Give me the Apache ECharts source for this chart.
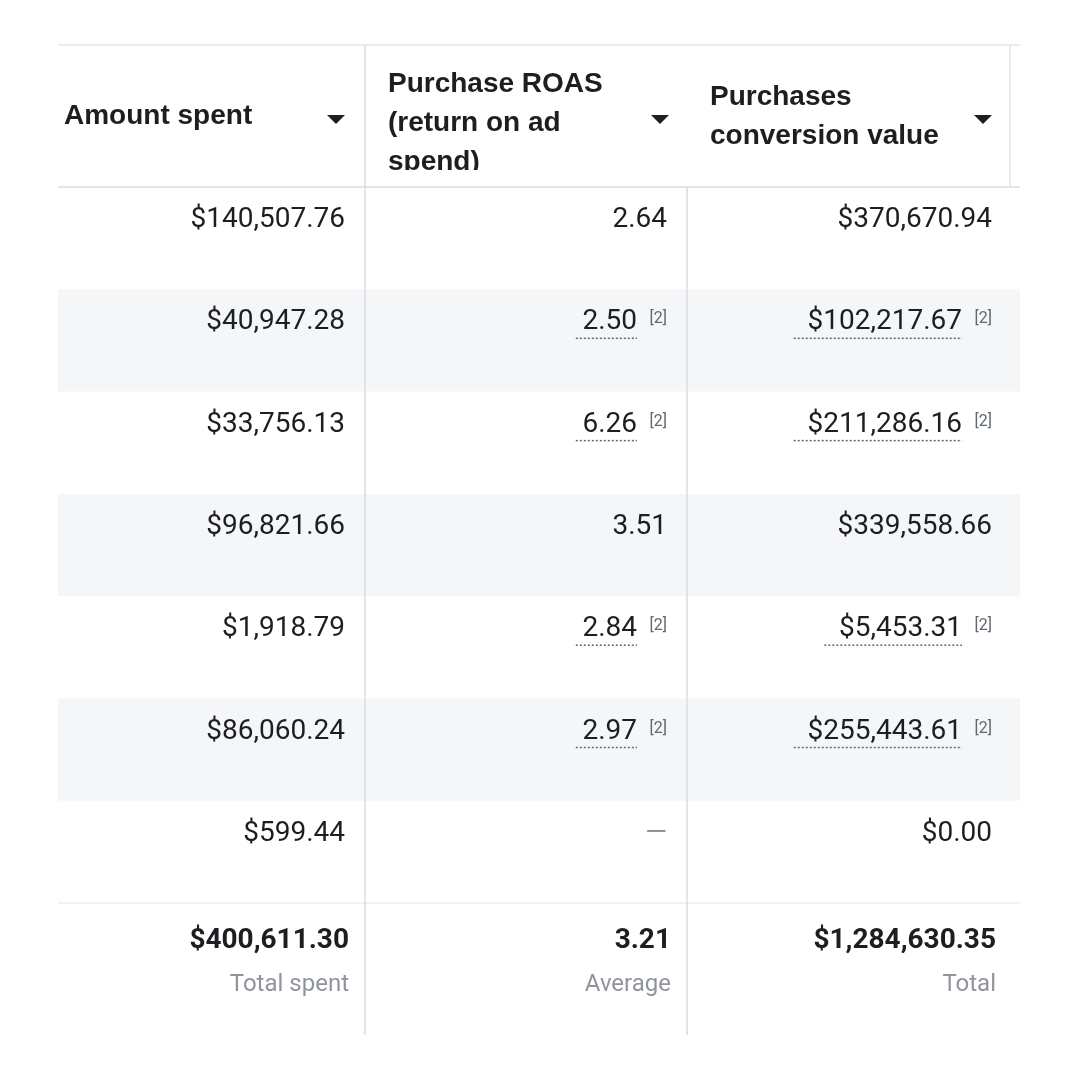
<!DOCTYPE html>
<html><head><meta charset="utf-8">
<script src="https://cdn.jsdelivr.net/npm/echarts@6/dist/echarts.min.js"></script>
<style>html,body{margin:0;background:#fff}#c{width:1080px;height:1080px}</style></head>
<body><div id="c"></div>
<script>
const headers = [['Amount spent'], ['Purchase ROAS', '(return on ad', 'spend)'], ['Purchases', 'conversion value']];
const amountSpent = ['$140,507.76', '$40,947.28', '$33,756.13', '$96,821.66', '$1,918.79', '$86,060.24', '$599.44'];
const roas = ['2.64', '2.50', '6.26', '3.51', '2.84', '2.97', '—'];
const convValue = ['$370,670.94', '$102,217.67', '$211,286.16', '$339,558.66', '$5,453.31', '$255,443.61', '$0.00'];
const footnoted = [false, true, true, false, true, true, false];
const totals = ['$400,611.30', '3.21', '$1,284,630.35'];
const totalLabels = ['Total spent', 'Average', 'Total'];

// layout (pixel-space axes)
const colEdges = [58, 365, 687, 1010];
const colRight = [345, 667, 992];
const headerTop = 45, headerBottom = 187, rowH = 102.3, totalBottom = 1035;

const chart = echarts.init(document.getElementById('c'));
const FONT = 'Roboto, "Liberation Sans", sans-serif';
const HFONT = '"Liberation Sans", Arial, sans-serif';

function renderTable(params, api) {
  const P = (x, y) => api.coord([x, y]);
  const ch = [];
  const line = (x1, y1, x2, y2, c) => { const a = P(x1, y1), b = P(x2, y2);
    ch.push({type:'line', shape:{x1:a[0],y1:a[1],x2:b[0],y2:b[1]}, style:{stroke:c||'#dadde1', lineWidth:1.5}}); };
  const text = (s, x, y, o) => { const a = P(x, y);
    ch.push({type:'text', x:a[0], y:a[1], style:Object.assign({text:s, fill:'#1c1e21', font:'28px '+FONT, align:'right', verticalAlign:'middle'}, o)}); };
  const nRows = amountSpent.length;
  // stripes
  for (let i = 0; i < nRows; i++) if (i % 2 === 1) {
    const a = P(58, headerBottom + i*rowH), b = P(1020, headerBottom + (i+1)*rowH);
    ch.push({type:'rect', shape:{x:a[0], y:a[1], width:b[0]-a[0], height:b[1]-a[1]}, style:{fill:'#f5f6f7'}});
  }
  const totalTop = headerBottom + nRows*rowH;
  // borders
  line(58, headerTop, 1020, headerTop, '#e4e6eb');
  line(58, headerBottom, 1020, headerBottom, '#dadde1');
  line(58, totalTop, 1020, totalTop, '#eceef1');
  line(365, headerTop, 365, totalBottom);
  line(687, headerBottom, 687, totalBottom);
  line(1010, headerTop, 1010, headerBottom, '#e4e6eb');
  // headers
  const hx = [64, 388, 710];
  const arrowX = [336, 660, 983];
  headers.forEach((h, c) => {
    const startY = h.length === 3 ? 84 : (h.length === 2 ? 97 : 116);
    const clipA = P(colEdges[c], headerTop), clipB = P(colEdges[c+1], 170);
    const grp = {type:'group', clipPath:{type:'rect', shape:{x:clipA[0], y:clipA[1], width:clipB[0]-clipA[0], height:clipB[1]-clipA[1]}}, children:[]};
    h.forEach((s, k) => { const a = P(hx[c], startY + k*39);
      grp.children.push({type:'text', x:a[0], y:a[1], style:{text:s, fill:'#1c1e21', font:'bold 28px '+HFONT, align:'left', verticalAlign:'middle'}}); });
    ch.push(grp);
    const a = P(arrowX[c], 115);
    ch.push({type:'polygon', shape:{points:[[a[0]-9,a[1]],[a[0]+9,a[1]],[a[0],a[1]+9]]}, style:{fill:'#1c1e21'}});
  });
  // data rows
  for (let i = 0; i < nRows; i++) {
    const y = headerBottom + i*rowH + 33;
    text(amountSpent[i], colRight[0], y);
    const vals = [roas[i], convValue[i]];
    vals.forEach((v, k) => {
      const c = k + 1;
      if (footnoted[i]) {
        const rx = colRight[c] - 30;
        text(v, rx, y, {fill:'#1c1e21'});
        text('[2]', colRight[c], y - 3, {font:'16px '+FONT, fill:'#606770'});
        const w = echarts.format.getTextRect ? 0 : 0;
        const width = v.length * 15.3;
        const a = P(rx - width, y + 16), b = P(rx, y + 16);
        ch.push({type:'line', shape:{x1:a[0],y1:a[1],x2:b[0],y2:b[1]}, style:{stroke:'#606770', lineWidth:1.5, lineDash:[2,2]}});
      } else {
        text(v, colRight[c], y, v === '—' ? {fill:'#8d949e'} : {});
      }
    });
  }
  // totals
  totals.forEach((t, c) => {
    const rx = colRight[c] + 4;
    text(t, rx, totalTop + 38, {font:'bold 28px '+FONT});
    text(totalLabels[c], rx, totalTop + 82, {font:'24px '+FONT, fill:'#90949c'});
  });
  return {type:'group', children:ch};
}

chart.setOption({
  animation:false,
  grid:{left:0, right:0, top:0, bottom:0},
  xAxis:{type:'value', min:0, max:1080, show:false},
  yAxis:{type:'value', min:0, max:1080, inverse:true, show:false},
  series:[{type:'custom', data:[[0,0]], renderItem:renderTable, silent:true}]
});
</script></body></html>
